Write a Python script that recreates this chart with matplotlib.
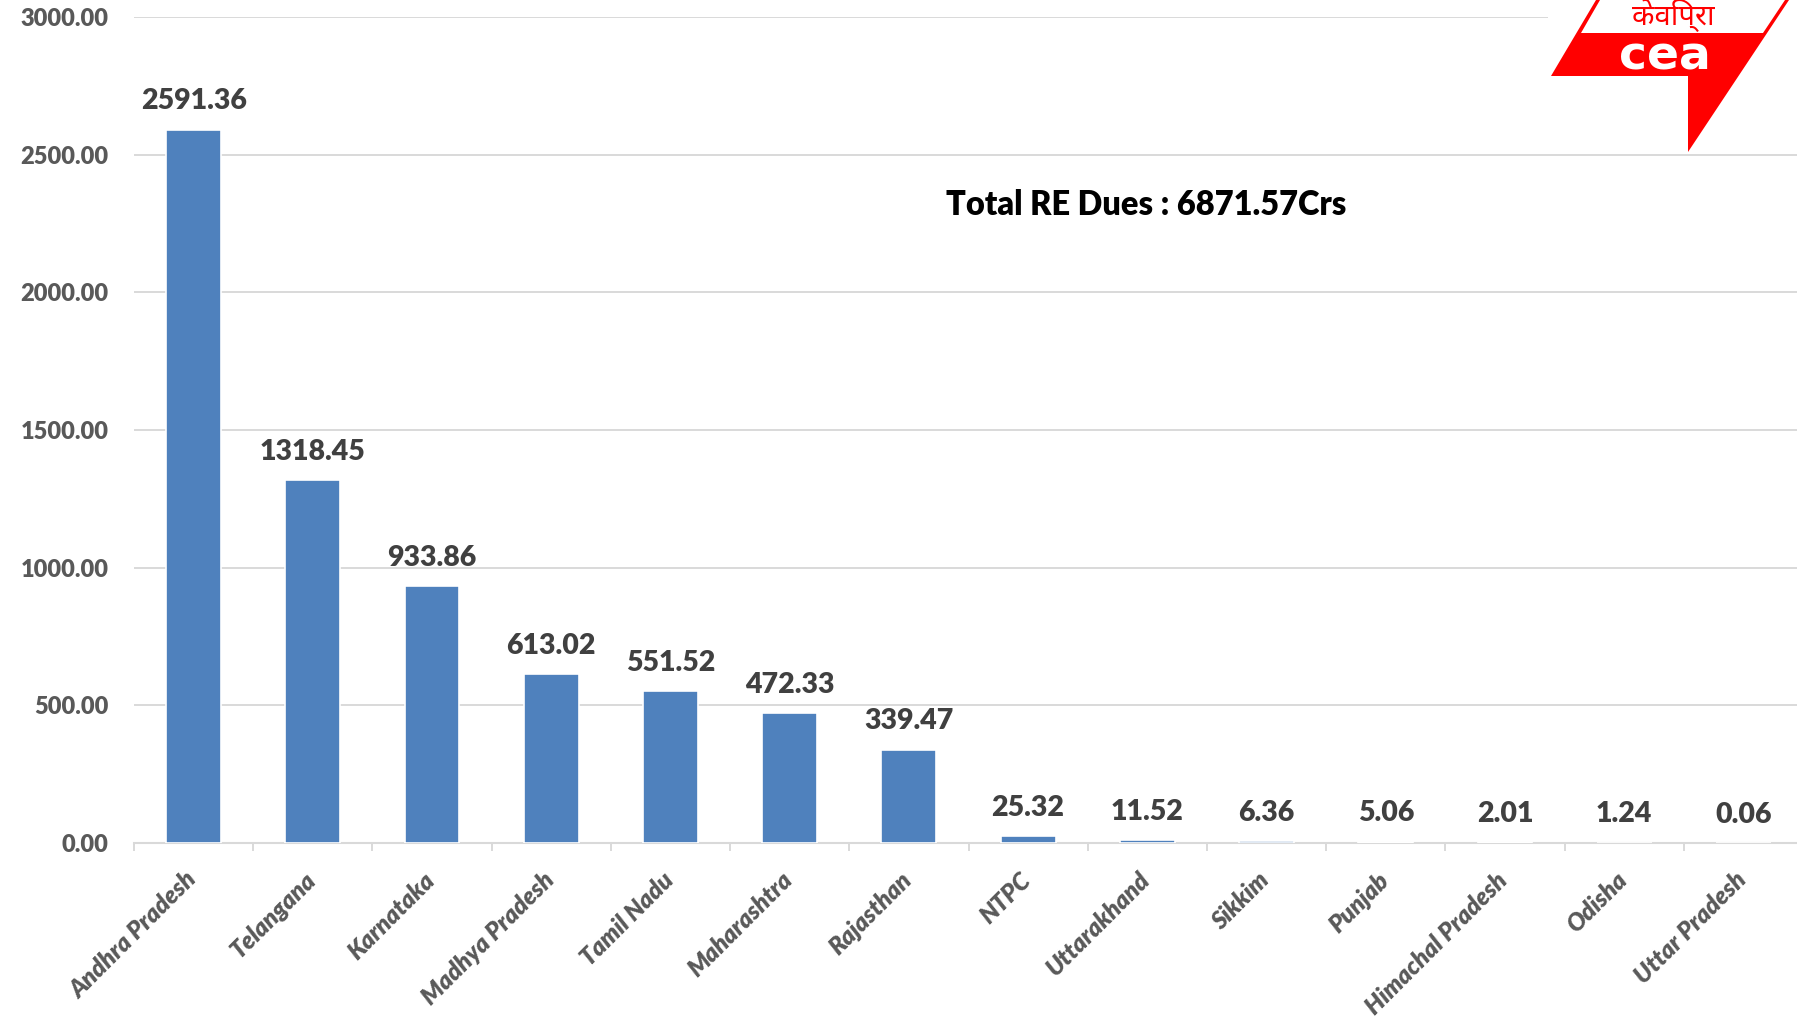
import matplotlib
matplotlib.use('Agg')
import numpy as np
import matplotlib.pyplot as plt
from matplotlib.patches import Polygon, Rectangle
from matplotlib.transforms import ScaledTranslation

states = ['Andhra Pradesh', 'Telangana', 'Karnataka', 'Madhya Pradesh', 'Tamil Nadu',
          'Maharashtra', 'Rajasthan', 'NTPC', 'Uttarakhand', 'Sikkim', 'Punjab',
          'Himachal Pradesh', 'Odisha', 'Uttar Pradesh']
dues = [2591.36, 1318.45, 933.86, 613.02, 551.52, 472.33, 339.47,
        25.32, 11.52, 6.36, 5.06, 2.01, 1.24, 0.06]
yticks = [0, 500, 1000, 1500, 2000, 2500, 3000]
total_text = 'Total RE Dues : 6871.57Crs'
logo_hindi = 'केविप्रा'
logo_eng = 'cea'

plt.rcParams['font.family'] = ['Lato', 'DejaVu Sans']

fig = plt.figure(figsize=(17.97, 10.24), dpi=100)
ax = fig.add_axes([134 / 1797, 1 - 843 / 1024, 1669 / 1797, 826 / 1024])

x = np.arange(len(states))
ax.bar(x, dues, width=0.46, color='#4F81BD', edgecolor='white', linewidth=1.2, zorder=3)
ax.set_xlim(-0.5, len(states) - 0.5)
ax.set_ylim(0, 3000)

# y axis
ax.set_yticks(yticks)
ax.set_yticklabels(['%.2f' % v for v in yticks], fontsize=17, fontweight='heavy', color='#595959')
ax.yaxis.grid(True, color='#d9d9d9', linewidth=1.4)
ax.set_axisbelow(True)
ax.tick_params(axis='y', length=0, pad=18.5)
for s in ['top', 'right', 'left']:
    ax.spines[s].set_visible(False)
ax.spines['bottom'].set_color('#d9d9d9')
ax.spines['bottom'].set_linewidth(1.5)

# x axis
ax.set_xticks(x)
ax.set_xticklabels(states, rotation=45, ha='right', va='center', rotation_mode='anchor',
                   fontsize=17.5, fontweight='heavy', fontstyle='italic', color='#595959')
ax.tick_params(axis='x', which='major', length=0, pad=24)
ax.set_xticks(np.arange(-0.5, len(states), 1), minor=True)
ax.tick_params(axis='x', which='minor', length=5.8, width=1.4, color='#d9d9d9')
shift = ScaledTranslation(-1 / 100, 0, fig.dpi_scale_trans)
for lbl in ax.get_xticklabels():
    lbl.set_transform(lbl.get_transform() + shift)

# value labels
for xi, v in zip(x, dues):
    ax.annotate('%.2f' % v, (xi, v), xytext=(0, 11), textcoords='offset points',
                ha='center', va='bottom', fontsize=20.5, fontweight='heavy', color='#404040')

fig.text(1146 / 1797, 1 - 215 / 1024, total_text, ha='center', va='baseline',
         fontsize=23.5, fontweight='heavy', color='black')

# logo (top right)
lax = fig.add_axes([1548 / 1797, 1 - 152 / 1024, 249 / 1797, 152 / 1024])
lax.set_xlim(1548, 1797)
lax.set_ylim(152, 0)
lax.axis('off')
lax.add_patch(Rectangle((1548, 0), 249, 152, color='white'))
lax.add_patch(Polygon([(1596, 0), (1789, 0), (1688, 152), (1688, 76), (1551, 76)],
                      closed=True, color='#ff0000', lw=0))
lax.add_patch(Polygon([(1600, 0), (1785, 0), (1763, 33), (1581, 33)],
                      closed=True, color='white', lw=0))
lax.text(1673, 15, logo_hindi, ha='center', va='center', fontsize=21, fontweight='bold',
         color='#ff0000',
         family=['Noto Sans Devanagari', 'Lohit Devanagari', 'FreeSans', 'DejaVu Sans'])
lax.text(1665, 57, logo_eng, ha='center', va='center', fontsize=34, fontweight='bold',
         color='white', family=['DejaVu Sans'])

fig.savefig('out.png', dpi=100)
